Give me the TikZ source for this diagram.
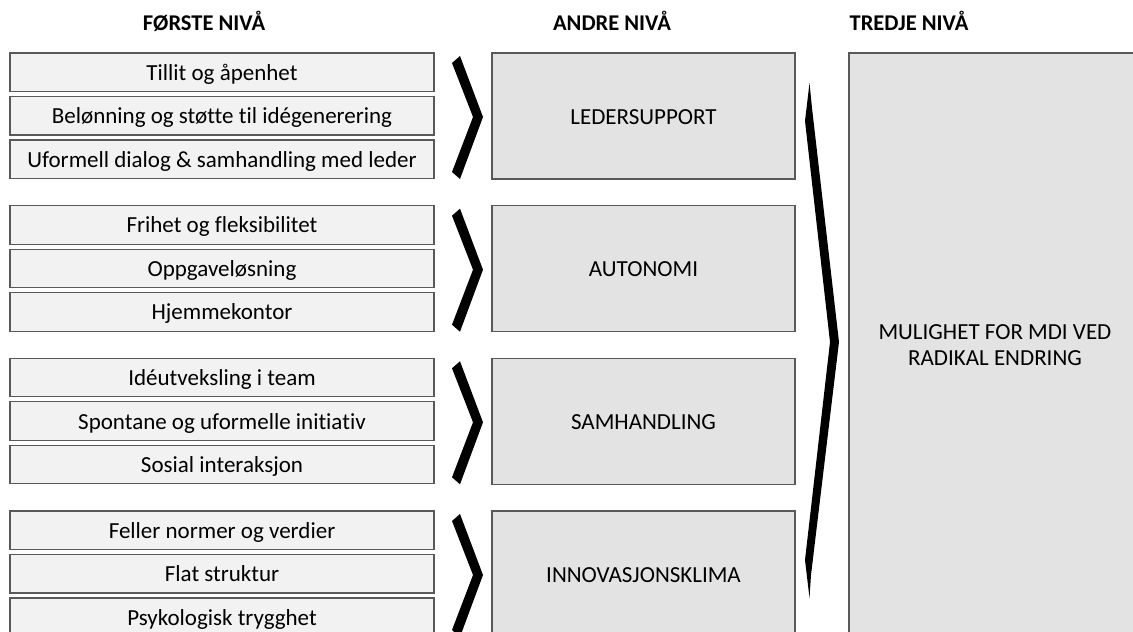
\documentclass[tikz,border=0pt]{standalone}
\usepackage{fontspec}
\setmainfont{Carlito}[Ligatures=NoCommon]
\begin{document}
\begin{tikzpicture}[x=1pt,y=-1pt,
  txt/.style={font=\fontsize{23}{26}\selectfont,text height=20pt,text depth=4pt},
  lbox/.style={txt,draw=black!65,line width=1.2pt,fill=black!5,minimum width=424pt,minimum height=38.5pt,inner sep=0pt},
  mbox/.style={txt,draw=black!65,line width=1.2pt,fill=black!11,minimum width=303pt,minimum height=126pt,inner sep=0pt},
  rbox/.style={draw=black!65,line width=1.2pt,fill=black!11,inner sep=0pt,font=\fontsize{23}{26}\selectfont,align=center},
  head/.style={font=\bfseries\fontsize{22.5}{25}\selectfont,anchor=base},
  chev/.style={fill=black,draw=none}]
\useasboundingbox (0,0) rectangle (1133,632);
% headers
\node[head] (h1) at (204,30) {FØRSTE NIVÅ};
\node[head] (h2) at (612,30) {ANDRE NIVÅ};
\node[head] (h3) at (909,30) {TREDJE NIVÅ};
% right box
\node[rbox,minimum width=292pt,minimum height=584pt] (r) at (995,345) {MULIGHET FOR MDI VED\\RADIKAL ENDRING};
\def\groups{0/53/Tillit og åpenhet/Belønning og støtte til idégenerering/Uformell dialog \& samhandling med leder/LEDERSUPPORT,
1/205.7/Frihet og fleksibilitet/Oppgaveløsning/Hjemmekontor/AUTONOMI,
2/358.3/Idéutveksling i team/Spontane og uformelle initiativ/Sosial interaksjon/SAMHANDLING,
3/511/Feller normer og verdier/Flat struktur/Psykologisk trygghet/INNOVASJONSKLIMA}
\foreach \g/\t/\a/\b/\c/\m in \groups {
  \node[lbox] (a\g) at (222,\t+19.25) {\a};
  \node[lbox] (b\g) at (222,\t+62.75) {\b};
  \node[lbox] (c\g) at (222,\t+106.25) {\c};
  \node[mbox] (m\g) at (643.5,\t+63) {\m};
  \fill[chev] (452,\t+10) -- (460,\t+3) -- (483,\t+64) -- (460,\t+126) -- (452,\t+119) -- (473,\t+64) -- cycle;
}
% big chevron
\fill[chev] (809.5,83) -- (812,108) -- (839,342) -- (811,575) -- (809.5,598) -- (805,560) -- (830,342) -- (805,121) -- cycle;
\end{tikzpicture}
\end{document}
